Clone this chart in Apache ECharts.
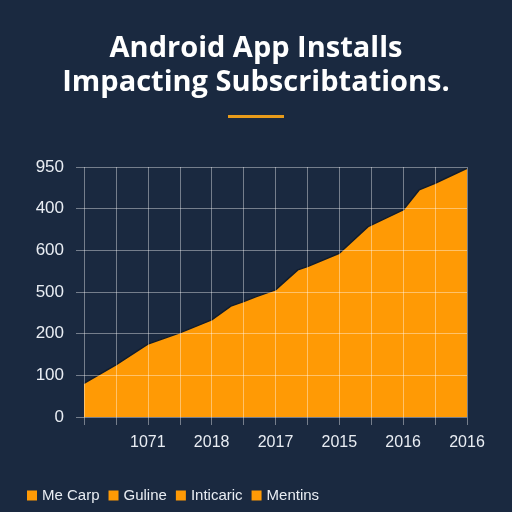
<!DOCTYPE html>
<html lang="en">
<head>
  <meta charset="UTF-8">
  <title>Android App Installs</title>
  <script src="https://cdn.jsdelivr.net/npm/echarts@6/dist/echarts.min.js"></script>
  <style>
    html, body {
      margin: 0;
      padding: 0;
      background: #1a2940;
    }

    #main {
      width: 512px;
      height: 512px;
    }
  </style>
</head>
<body>
<div id="main"></div>
<script>
  // data
  var xPos = [0, 1, 2, 3, 4, 4.6, 5, 5.4, 6, 6.7, 7, 8, 8.9, 10, 10.5, 11, 12]
  var installs = [81, 125, 175, 202, 233, 266, 277, 289, 305, 353, 361, 393, 457, 497, 545, 561, 597]
  var xTickLabels = ['', '', '1071', '', '2018', '', '2017', '', '2015', '', '2016', '', '2016']
  var yTickLabels = ['0', '100', '200', '500', '600', '400', '950']
  var legendNames = ['Me Carp', 'Guline', 'Inticaric', 'Mentins']

  var orange = '#ff9a05'
  var gridColor = 'rgba(255,255,255,0.4)'
  var labelColor = '#e9edf3'

  var myChart = echarts.init(document.getElementById('main'))

  var series = [{
    name: legendNames[0],
    type: 'line',
    symbol: 'none',
    z: 2,
    itemStyle: {color: orange},
    lineStyle: {color: '#121d2c', width: 1.5},
    areaStyle: {color: orange, opacity: 1},
    data: xPos.map(function (x, i) {
      return [x, installs[i]]
    })
  }]
  // other legend entries have no drawn marks
  for (var i = 1; i < legendNames.length; i++) {
    series.push({name: legendNames[i], type: 'line', itemStyle: {color: orange}, data: []})
  }

  var option = {
    backgroundColor: '#1a2940',
    animation: false,
    title: {
      text: 'Android App Installs\nImpacting Subscribtations.',
      left: 'center',
      top: 27,
      textStyle: {
        color: '#ffffff',
        fontFamily: 'Open Sans',
        fontWeight: 'bold',
        fontSize: 29,
        lineHeight: 34
      }
    },
    graphic: [{
      type: 'rect',
      shape: {x: 228, y: 115, width: 56, height: 3},
      style: {fill: '#e89b1a'}
    }],
    legend: {
      data: legendNames,
      left: 27,
      top: 488,
      icon: 'rect',
      itemWidth: 10,
      itemHeight: 10,
      itemGap: 9,
      padding: 0,
      selectedMode: false,
      textStyle: {color: labelColor, fontSize: 15, fontFamily: 'Liberation Sans'}
    },
    grid: {left: 84, right: 45, top: 167, bottom: 95},
    xAxis: {
      type: 'value',
      min: 0,
      max: 12,
      interval: 1,
      z: 3,
      axisLine: {show: false},
      axisTick: {show: true, length: 8, lineStyle: {color: gridColor}},
      splitLine: {show: true, lineStyle: {color: gridColor, width: 1}},
      axisLabel: {
        color: labelColor,
        fontSize: 16,
        fontFamily: 'Liberation Sans',
        margin: 18,
        showMaxLabel: true,
        formatter: function (v) {
          return xTickLabels[Math.round(v)] || ''
        }
      }
    },
    yAxis: {
      type: 'value',
      min: 0,
      max: 600,
      interval: 100,
      z: 3,
      axisLine: {show: false},
      axisTick: {show: true, length: 8, lineStyle: {color: gridColor}},
      splitLine: {show: true, lineStyle: {color: gridColor, width: 1}},
      axisLabel: {
        color: labelColor,
        fontSize: 17,
        fontFamily: 'Liberation Sans',
        margin: 20,
        formatter: function (v) {
          return yTickLabels[Math.round(v / 100)]
        }
      }
    },
    series: series
  }

  myChart.setOption(option)
</script>
</body>
</html>
